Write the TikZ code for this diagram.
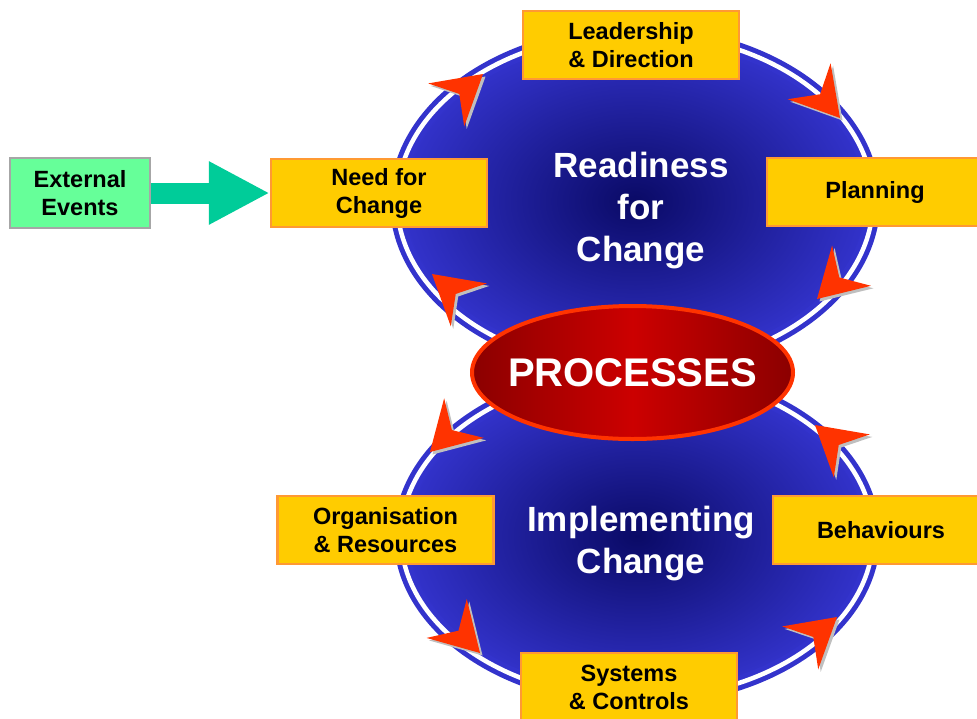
\documentclass[tikz,border=0pt]{standalone}
\usepackage{fontspec}
\setmainfont{Liberation Sans}
\usetikzlibrary{shapes.geometric,arrows.meta}
\definecolor{ringblue}{HTML}{3333CC}
\definecolor{deepblue}{HTML}{0A0A66}
\definecolor{boxyellow}{HTML}{FFCC00}
\definecolor{boxorange}{HTML}{FF9933}
\definecolor{extgreen}{HTML}{66FF99}
\definecolor{extgray}{HTML}{A6A6A6}
\definecolor{arrowgreen}{HTML}{00CC99}
\definecolor{headred}{HTML}{FF3300}
\definecolor{headshadow}{HTML}{BFBFBF}
\definecolor{procdark}{HTML}{8B0000}
\definecolor{procbright}{HTML}{CC0000}
\begin{document}
\begin{tikzpicture}[x=1pt,y=-1pt,
	stage/.style={draw=boxorange, fill=boxyellow, line width=2.5pt, minimum width=216pt, minimum height=68pt, align=center, font=\bfseries\fontsize{23.5}{28}\selectfont},
	loopring/.style={ellipse, draw=ringblue, line width=5pt, double=white, double distance=4.5pt, inner color=deepblue, outer color=ringblue},
	looptext/.style={text=white, align=center, font=\bfseries\fontsize{35}{42}\selectfont},
	pics/redhead/.style={code={
		\fill[headshadow, shift={(2.5pt,-2.5pt)}, rotate=#1] (0pt,0pt) -- (-48pt,28pt) -- (-31pt,0pt) -- (-48pt,-28pt) -- cycle;
		\fill[headred, rotate=#1] (0pt,0pt) -- (-48pt,28pt) -- (-31pt,0pt) -- (-48pt,-28pt) -- cycle;
	}}]
	\clip (0,0) rectangle (977,718);
	\node[loopring, minimum width=476pt, minimum height=336pt] (readiness) at (635,201) {};
	\node[loopring, minimum width=472pt, minimum height=326pt] (implementing) at (637,536) {};
	\node[looptext] (readytext) at (641,211) {Readiness\\for\\Change};
	\node[looptext] (impltext) at (641,544) {Implementing\\Change};
	\node[ellipse, draw=headred, line width=4pt, left color=procdark, right color=procdark, middle color=procbright, inner xsep=-14pt, inner ysep=0pt, minimum width=321pt, minimum height=133pt, text=white, font=\bfseries\fontsize{40}{48}\selectfont] (processes) at (632.5,372.5) {PROCESSES};
	\pic at (483,74) {redhead=40};
	\pic at (840,118) {redhead=-50};
	\pic at (817,299) {redhead=-136};
	\pic at (432,274) {redhead=140};
	\pic at (430,452) {redhead=-135};
	\pic at (480,653) {redhead=-46};
	\pic at (837,617) {redhead=40};
	\pic at (815,425) {redhead=140};
	\node[stage] (leadership) at (631,45) {Leadership\\\& Direction};
	\node[stage] (need) at (379,193) {Need for\\Change};
	\node[stage] (planning) at (875,192) {Planning};
	\node[stage] (organisation) at (385.5,530) {Organisation\\\& Resources};
	\node[stage] (behaviours) at (881,530) {Behaviours};
	\node[stage] (systems) at (629,687) {Systems\\\& Controls};
	\node[stage, draw=extgray, fill=extgreen, minimum width=140pt, minimum height=70pt] (external) at (80,193) {External\\Events};
	\draw[arrowgreen, line width=21pt, -{Triangle[length=61pt,width=59pt]}] (external) -- (need);
\end{tikzpicture}
\end{document}
